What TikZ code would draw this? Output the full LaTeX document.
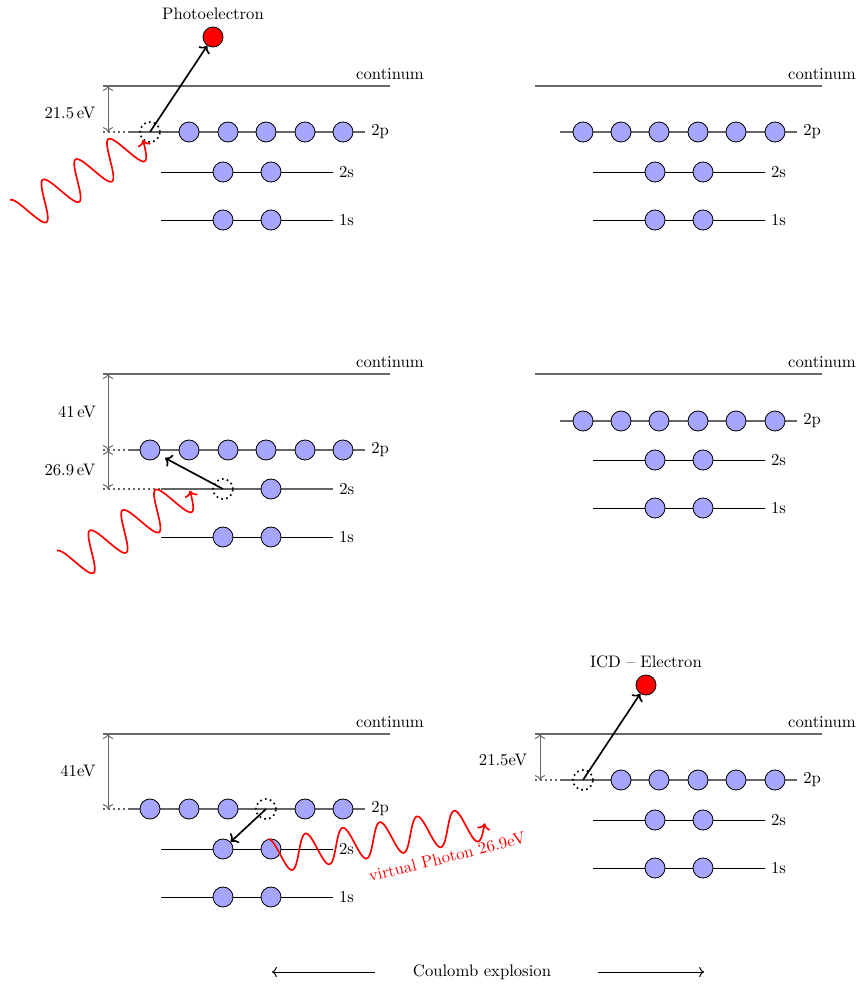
\documentclass[tikz,border=0pt]{standalone}
\usetikzlibrary{arrows.meta}
\begin{document}
\begin{tikzpicture}[x=0.6pt,y=-0.6pt,
  lvl/.style={black,line width=0.6pt},
  glvl/.style={black!60,line width=1pt},
  ext/.style={black!60,line width=1pt,dotted},
  el/.style={circle,draw,fill=blue!35,minimum size=12pt,inner sep=0pt,line width=0.5pt},
  hole/.style={circle,draw,dotted,line width=1pt,minimum size=12pt,inner sep=0pt},
  free/.style={circle,draw,fill=red,minimum size=12pt,inner sep=0pt,line width=0.5pt},
  jump/.style={->,line width=1pt},
  dim/.style={<->,black!60,line width=0.6pt},
  wavel/.style={red,line width=1pt,->}
]
\useasboundingbox (0,0) rectangle (860,984);

% ---------- Panel 1 ----------
\draw[glvl] (103,86) -- (390,86) node[above,black] (k1) {continum};
\draw[ext] (103,132) -- (128,132);
\draw[glvl] (128,132) -- (365,132) node[right,black] (p1) {2p};
\draw[lvl] (161,172) -- (333,172) node[right] (s1) {2s};
\draw[lvl] (161,220) -- (333,220) node[right] (o1) {1s};
\node[hole] (h1) at (150,132) {};
\foreach \x [count=\i] in {189,228,266,305,343} \node[el] (a1-\i) at (\x,132) {};
\foreach \x [count=\i] in {223,271} {\node[el] (b1-\i) at (\x,172) {}; \node[el] (c1-\i) at (\x,220) {};}
\draw[dim] (108,86) -- (108,132);
\node (d1) at (70,113) {21.5\,eV};
\node[free] (f1) at (213,37) {};
\node (t1) at (213,14) {Photoelectron};
\draw[jump] (h1.center) -- (f1);
\begin{scope}[shift={(20,216.2)},rotate=31.8]
  \draw[wavel] plot[domain=0:144.8,samples=160,variable=\t] (\t,{-19*cos(9.3264*\t)});
\end{scope}

% ---------- Panel 2 ----------
\draw[glvl] (535,86) -- (822,86) node[above,black] (k2) {continum};
\draw[glvl] (560,132) -- (797,132) node[right,black] (p2) {2p};
\draw[lvl] (593,172) -- (765,172) node[right] (s2) {2s};
\draw[lvl] (593,220) -- (765,220) node[right] (o2) {1s};
\foreach \x [count=\i] in {583,621,659,698,736,775} \node[el] (a2-\i) at (\x,132) {};
\foreach \x [count=\i] in {655,703} {\node[el] (b2-\i) at (\x,172) {}; \node[el] (c2-\i) at (\x,220) {};}

% ---------- Panel 3 ----------
\draw[glvl] (103,374) -- (390,374) node[above,black] (k3) {continum};
\draw[ext] (103,450) -- (128,450);
\draw[glvl] (128,450) -- (365,450) node[right,black] (p3) {2p};
\draw[ext] (103,489) -- (161,489);
\draw[glvl] (161,489) -- (333,489) node[right,black] (s3) {2s};
\draw[lvl] (161,537) -- (333,537) node[right] (o3) {1s};
\foreach \x [count=\i] in {150,189,228,266,305,343} \node[el] (a3-\i) at (\x,450) {};
\node[hole] (h3) at (223,489) {};
\node[el] (b3-2) at (271,489) {};
\foreach \x [count=\i] in {223,271} \node[el] (c3-\i) at (\x,537) {};
\draw[dim] (108,374) -- (108,450);
\draw[dim] (108,450) -- (108,489);
\node (d3a) at (77,412) {41\,eV};
\node (d3b) at (70,470) {26.9\,eV};
\draw[jump,shorten >=4pt] (h3.center) -- (a3-1);
\begin{scope}[shift={(67,567)},rotate=31.8]
  \draw[wavel] plot[domain=0:144.8,samples=160,variable=\t] (\t,{-19*cos(9.3264*\t)});
\end{scope}

% ---------- Panel 4 ----------
\draw[glvl] (535,374) -- (822,374) node[above,black] (k4) {continum};
\draw[glvl] (560,421) -- (797,421) node[right,black] (p4) {2p};
\draw[lvl] (593,460) -- (765,460) node[right] (s4) {2s};
\draw[lvl] (593,508) -- (765,508) node[right] (o4) {1s};
\foreach \x [count=\i] in {583,621,659,698,736,775} \node[el] (a4-\i) at (\x,421) {};
\foreach \x [count=\i] in {655,703} {\node[el] (b4-\i) at (\x,460) {}; \node[el] (c4-\i) at (\x,508) {};}

% ---------- Panel 5 ----------
\draw[glvl] (103,734) -- (390,734) node[above,black] (k5) {continum};
\draw[ext] (103,809) -- (128,809);
\draw[glvl] (128,809) -- (365,809) node[right,black] (p5) {2p};
\draw[lvl] (161,849) -- (333,849) node[right] (s5) {2s};
\draw[lvl] (161,897) -- (333,897) node[right] (o5) {1s};
\foreach \x [count=\i] in {150,189,228} \node[el] (a5-\i) at (\x,809) {};
\node[hole] (h5) at (266,809) {};
\foreach \x [count=\i] in {305,343} \node[el] (a5r-\i) at (\x,809) {};
\foreach \x [count=\i] in {223,271} {\node[el] (b5-\i) at (\x,849) {}; \node[el] (c5-\i) at (\x,897) {};}
\draw[dim] (108,734) -- (108,809);
\node (d5) at (78,771) {41eV};
\draw[jump] (h5.center) -- (b5-1);
\begin{scope}[shift={(271,856)},rotate=8.7]
  \draw[wavel] plot[domain=0:216.2,samples=220,variable=\t] (\t,{-17*cos(9.5745*\t)});
\end{scope}
\node[red,rotate=14] (v5) at (447,857) {virtual Photon 26.9eV};

% ---------- Panel 6 ----------
\draw[glvl] (535,734) -- (822,734) node[above,black] (k6) {continum};
\draw[ext] (535,780) -- (560,780);
\draw[glvl] (560,780) -- (797,780) node[right,black] (p6) {2p};
\draw[lvl] (593,820) -- (765,820) node[right] (s6) {2s};
\draw[lvl] (593,868) -- (765,868) node[right] (o6) {1s};
\node[hole] (h6) at (583,780) {};
\foreach \x [count=\i] in {621,659,698,736,775} \node[el] (a6-\i) at (\x,780) {};
\foreach \x [count=\i] in {655,703} {\node[el] (b6-\i) at (\x,820) {}; \node[el] (c6-\i) at (\x,868) {};}
\draw[dim] (540,734) -- (540,780);
\node (d6) at (503,760) {21.5eV};
\node[free] (f6) at (646,685) {};
\node (t6) at (646,662) {ICD -- Electron};
\draw[jump] (h6.center) -- (f6);

% ---------- Coulomb explosion ----------
\node (ce) at (482,972) {Coulomb explosion};
\coordinate (cl0) at (375,972);
\coordinate (cl1) at (272,972);
\coordinate (cr0) at (598,972);
\coordinate (cr1) at (704,972);
\draw[->,line width=0.6pt] (cl0) -- (cl1);
\draw[->,line width=0.6pt] (cr0) -- (cr1);
\end{tikzpicture}
\end{document}
